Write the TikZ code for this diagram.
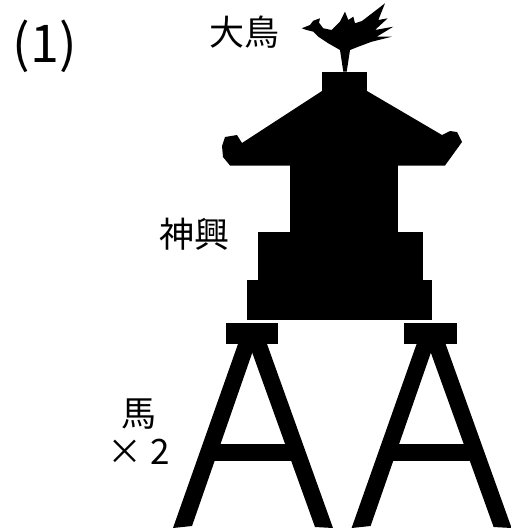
\documentclass[tikz,border=0pt]{standalone}
\usepackage{fontspec}
\newfontfamily\jpfont{Noto Sans CJK JP}

\begin{document}
\begin{tikzpicture}[x=1pt, y=-1pt,
    ink/.style={fill=black, draw=none},
    tag/.style={font=\jpfont\fontsize{35}{38}\selectfont, inner sep=0pt, align=center},
    bigtag/.style={font=\jpfont\fontsize{52}{56}\selectfont, inner sep=0pt}
]
\useasboundingbox (0,0) rectangle (511,531);

% bird on its pole
\fill[ink] (301.7,28.3) -- (310,25) -- (313.3,20.7) -- (320,18.3) -- (319,22.7)
    -- (323.3,28.3) -- (331.7,30) -- (340,21.7) -- (345,11.7) -- (348.3,20)
    -- (353.3,16.7) -- (355,23.3) -- (362,21) -- (385,3.3) -- (378.3,20)
    -- (387.7,18.3) -- (375,30) -- (393.3,26.7) -- (376.7,36.7) -- (391.7,36.7)
    -- (371.7,41.7) -- (358.3,46.7) -- (350,50) -- (346.7,71.7) -- (343.3,71.7)
    -- (340,50) -- (328.3,43.3) -- (318.3,36.7) -- (313.3,31.7) -- (306.7,30) -- cycle;

% finial block and roof
\fill[ink] (322,72) rectangle (367,91.5);
\fill[ink] (322,91) -- (242,143) -- (237,135) -- (225,137) -- (222,146)
    -- (223,157) -- (230,165.5) -- (445,165.5) -- (462,142) -- (457,132)
    -- (450,131) -- (442,135) -- (367,91) -- cycle;

% body and base tiers
\fill[ink] (290,165) rectangle (398,233);
\fill[ink] (258,232) rectangle (423,281);
\fill[ink] (247,280) rectangle (432,319.5);

% the two stands
\foreach \dx in {0,178.6}{
  \begin{scope}[xshift=\dx]
    \fill[ink] (225.7,322.7) rectangle (278.3,344);
    \fill[ink] (238,344) -- (252.5,344) -- (252.5,352) -- (192,526) -- (173,528) -- cycle;
    \fill[ink] (267,344) -- (252,344) -- (252,352) -- (315,527) -- (333,528) -- cycle;
    \fill[ink] (210,444) rectangle (295,461);
  \end{scope}
}

% labels
\node[bigtag] (num) at (45,46) {(1)};
\node[tag] (bird) at (244,32.5) {大鳥};
\node[tag] (shrine) at (194,234.5) {神興};
\node[tag] (horse) at (139,432) {馬\\× 2};
\end{tikzpicture}
\end{document}
